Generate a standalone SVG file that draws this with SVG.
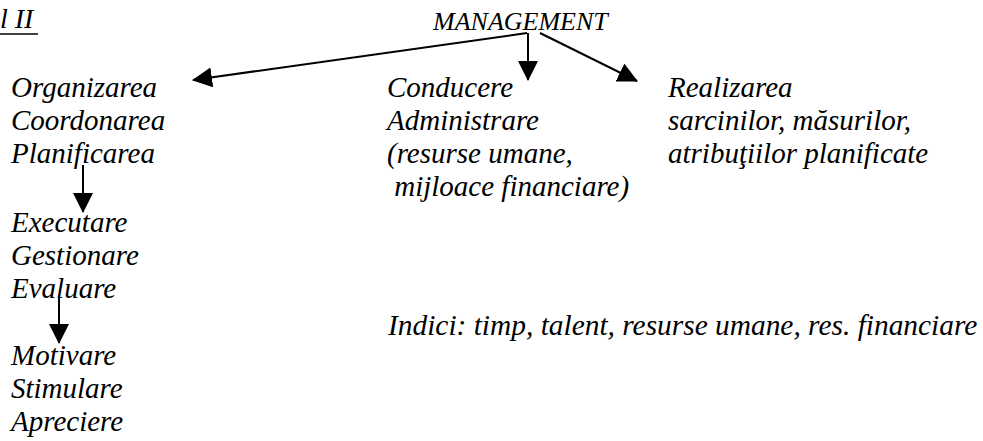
<svg xmlns="http://www.w3.org/2000/svg" width="983" height="441" viewBox="0 0 983 441">
<defs>
<style>
text{font-family:"Liberation Serif","Times New Roman",serif;font-style:italic;font-size:29px;fill:#000}
.small{font-size:26px}
.title{font-size:28px}
.wide{font-size:29.4px}
.conn line{stroke:#000;stroke-width:2;fill:none}
</style>
<marker id="ah" markerUnits="userSpaceOnUse" markerWidth="20" markerHeight="20" refX="19" refY="10" orient="auto" viewBox="0 0 20 20">
<path d="M0,0 L20,10 L0,20 z" fill="#000"/>
</marker>
</defs>
<rect width="983" height="441" fill="#fff"/>
<g id="title">
<text class="title" x="0" y="28">l II</text>
<line x1="0" y1="34" x2="38" y2="34" stroke="#000" stroke-width="1.5"/>
</g>
<g id="management"><text class="small" x="433" y="30">MANAGEMENT</text></g>
<g id="org">
<text x="11" y="97">Organizarea</text>
<text x="11" y="130">Coordonarea</text>
<text x="11" y="163">Planificarea</text>
</g>
<g id="exec">
<text x="11" y="232">Executare</text>
<text x="11" y="265">Gestionare</text>
<text x="11" y="298">Evaluare</text>
</g>
<g id="motiv">
<text x="11" y="365">Motivare</text>
<text x="11" y="398">Stimulare</text>
<text x="11" y="431">Apreciere</text>
</g>
<g id="conducere">
<text x="387" y="97">Conducere</text>
<text x="387" y="130">Administrare</text>
<text x="387" y="163">(resurse umane,</text>
<text x="387" y="196" xml:space="preserve"> mijloace financiare)</text>
</g>
<g id="realizarea">
<text x="668" y="97">Realizarea</text>
<text x="668" y="130">sarcinilor, măsurilor,</text>
<text x="668" y="163">atribuţiilor planificate</text>
</g>
<g id="indici"><text class="wide" x="388" y="335">Indici: timp, talent, resurse umane, res. financiare</text></g>
<g class="conn" id="connectors">
<line x1="527" y1="33" x2="193" y2="80" marker-end="url(#ah)"/>
<line x1="528" y1="33" x2="528" y2="80" marker-end="url(#ah)"/>
<line x1="540" y1="33" x2="637" y2="81" marker-end="url(#ah)"/>
<line x1="83" y1="165" x2="83" y2="212" marker-end="url(#ah)"/>
<line x1="59" y1="297" x2="59" y2="343" marker-end="url(#ah)"/>
</g>
</svg>
